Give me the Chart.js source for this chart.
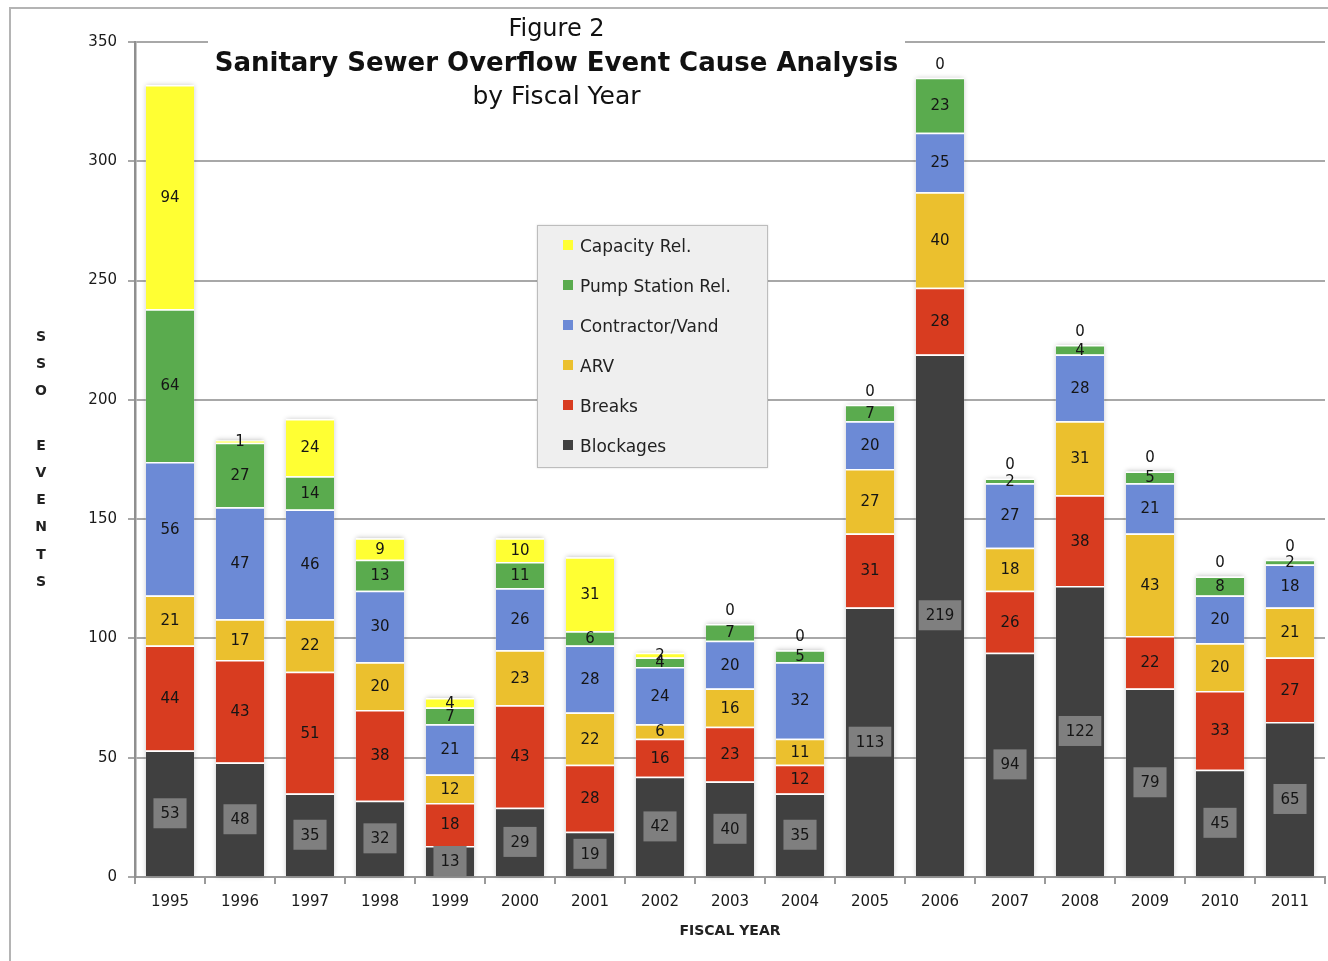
<!DOCTYPE html>
<html>
<head>
<meta charset="utf-8">
<script src="https://cdn.jsdelivr.net/npm/chart.js@4.4.1/dist/chart.umd.min.js"></script>
<style>
  html, body { margin:0; padding:0; background:#fff; }
  #wrap { position:relative; width:1328px; height:961px; overflow:hidden; background:#fff; font-family:"DejaVu Sans", Verdana, sans-serif; }
  #frame { position:absolute; left:9px; top:7px; width:1400px; height:1000px; border-left:2px solid #b4b4b4; border-top:2px solid #b4b4b4; }
  canvas { position:absolute; left:0; top:0; }
  #title { position:absolute; left:208px; top:10px; width:697px; height:100px; background:#fff; text-align:center; color:#111; }
  #title .l1 { position:absolute; left:0; right:0; top:3px; font-size:24px; line-height:30px; }
  #title .l2 { position:absolute; left:0; right:0; top:35px; font-size:26px; font-weight:bold; line-height:34px; }
  #title .l3 { position:absolute; left:0; right:0; top:71px; font-size:25px; line-height:30px; }
  #legend { position:absolute; left:537px; top:225px; width:229px; height:241px; background:#efefef; border:1px solid #bdbdbd; box-shadow:0 0 2px rgba(0,0,0,0.15); }
  #legend .item { position:absolute; left:25px; height:22px; font-size:17px; line-height:22px; color:#222; white-space:nowrap; }
  #legend .sw { display:inline-block; width:10px; height:10px; margin-right:7px; vertical-align:middle; position:relative; top:-2px; }
  #ytitle { position:absolute; left:30px; top:323px; width:22px; text-align:center; font-size:14px; font-weight:bold; color:#222; }
  #ytitle div { height:27.2px; line-height:27.2px; }
</style>
</head>
<body>
<div id="wrap">
  <div id="frame"></div>
  <canvas id="c" width="1328" height="961"></canvas>
  <div id="title">
    <div class="l1">Figure 2</div>
    <div class="l2">Sanitary Sewer Overflow Event Cause Analysis</div>
    <div class="l3">by Fiscal Year</div>
  </div>
  <div id="legend"></div>
  <div id="ytitle"></div>
</div>
<script>
// ---- data ----
const years = ['1995','1996','1997','1998','1999','2000','2001','2002','2003','2004','2005','2006','2007','2008','2009','2010','2011'];
const blockages  = [53,48,35,32,13,29,19,42,40,35,113,219,94,122,79,45,65];
const breaks     = [44,43,51,38,18,43,28,16,23,12,31,28,26,38,22,33,27];
const arv        = [21,17,22,20,12,23,22,6,16,11,27,40,18,31,43,20,21];
const contractor = [56,47,46,30,21,26,28,24,20,32,20,25,27,28,21,20,18];
const pumpStation= [64,27,14,13,7,11,6,4,7,5,7,23,2,4,5,8,2];
const capacity   = [94,1,24,9,4,10,31,2,0,0,0,0,0,0,0,0,0];
const seriesNames = ['Blockages','Breaks','ARV','Contractor/Vand','Pump Station Rel.','Capacity Rel.'];
const yTicks = [0,50,100,150,200,250,300,350];
const yTitleText = 'SSO EVENTS';
const xTitleText = 'FISCAL YEAR';

const colors = ['#404040','#d83c20','#ebc02e','#6c8ad6','#5aab4e','#ffff33'];
const seriesData = [blockages, breaks, arv, contractor, pumpStation, capacity];

const datasets = seriesData.map((d,i)=>({
  label: seriesNames[i],
  data: d,
  backgroundColor: colors[i],
  borderColor: '#ffffff',
  borderWidth: {top:1.5, left:0, right:0, bottom:0},
  borderSkipped: false,
  barPercentage: 0.69,
  categoryPercentage: 1.0
}));

// shadow behind whole stacks
const stackShadow = {
  id:'stackShadow',
  beforeDatasetsDraw(chart){
    const ctx = chart.ctx;
    const metas = chart.data.datasets.map((_,i)=>chart.getDatasetMeta(i));
    ctx.save();
    ctx.shadowColor = 'rgba(0,0,0,0.28)';
    ctx.shadowBlur = 5;
    ctx.fillStyle = '#ffffff';
    metas[0].data.forEach((el,j)=>{
      let top = el.base;
      metas.forEach(m=>{ top = Math.min(top, m.data[j].y); });
      const w = el.width;
      ctx.fillRect(el.x - w/2, top, w, el.base - top);
    });
    ctx.restore();
  }
};

// segment labels
const segLabels = {
  id:'segLabels',
  afterDatasetsDraw(chart){
    const ctx = chart.ctx;
    ctx.save();
    ctx.font = '15px "DejaVu Sans", Verdana, sans-serif';
    ctx.textAlign = 'center';
    ctx.textBaseline = 'middle';
    const n = chart.data.datasets.length;
    chart.data.datasets.forEach((ds,i)=>{
      const meta = chart.getDatasetMeta(i);
      meta.data.forEach((el,j)=>{
        const v = ds.data[j];
        let y;
        if (v === 0) {
          if (i !== n-1) return;
          y = el.y - 14;
        } else {
          y = (el.y + el.base)/2;
        }
        const txt = String(v);
        if (i === 0) {
          const tw = ctx.measureText(txt).width;
          const bw = tw + 14, bh = 30;
          ctx.fillStyle = '#7f7f7f';
          ctx.fillRect(el.x - bw/2, y - bh/2, bw, bh);
        }
        ctx.fillStyle = '#151515';
        ctx.fillText(txt, el.x, y + 1);
      });
    });
    ctx.restore();
  }
};

const chart = new Chart(document.getElementById('c'), {
  type:'bar',
  data:{ labels: years, datasets },
  options:{
    responsive:false,
    animation:false,
    layout:{ padding:{ top:42, right:3, left:0, bottom:0 } },
    plugins:{ legend:{ display:false }, title:{ display:false }, tooltip:{ enabled:false } },
    scales:{
      x:{
        stacked:true,
        grid:{ display:true, drawOnChartArea:false, drawTicks:true, tickLength:7, color:'#9a9a9a', lineWidth:2, offset:true },
        border:{ display:true, color:'#9a9a9a', width:2 },
        ticks:{ color:'#1a1a1a', font:{ family:'"DejaVu Sans", Verdana, sans-serif', size:15 }, padding:9, maxRotation:0 },
        title:{ display:true, text:xTitleText, color:'#222', font:{ family:'"DejaVu Sans", Verdana, sans-serif', size:14, weight:'bold' }, padding:{ top:0, bottom:21 } },
        afterFit(scale){ scale.height = 84; }
      },
      y:{
        stacked:true,
        min:0, max:350,
        afterBuildTicks(scale){ scale.ticks = yTicks.map(v=>({value:v})); },
        grid:{ color:'#a8a8a8', lineWidth:2, tickLength:7, drawTicks:true },
        border:{ display:true, color:'#8f8f8f', width:2.5 },
        ticks:{ color:'#1a1a1a', font:{ family:'"DejaVu Sans", Verdana, sans-serif', size:15 }, padding:11 },
        afterFit(scale){ scale.width = 135; }
      }
    }
  },
  plugins:[stackShadow, segLabels]
});

// legend (reverse order)
const leg = document.getElementById('legend');
for (let k = 0; k < seriesNames.length; k++) {
  const i = seriesNames.length - 1 - k;
  const it = document.createElement('div');
  it.className = 'item';
  it.style.top = (9 + k*40) + 'px';
  const sw = document.createElement('span');
  sw.className = 'sw';
  sw.style.background = colors[i];
  it.appendChild(sw);
  it.appendChild(document.createTextNode(seriesNames[i]));
  leg.appendChild(it);
}
// stacked y title
const yt = document.getElementById('ytitle');
for (const ch of yTitleText) {
  const d = document.createElement('div');
  d.textContent = ch === ' ' ? '\u00a0' : ch;
  yt.appendChild(d);
}
</script>
</body>
</html>
